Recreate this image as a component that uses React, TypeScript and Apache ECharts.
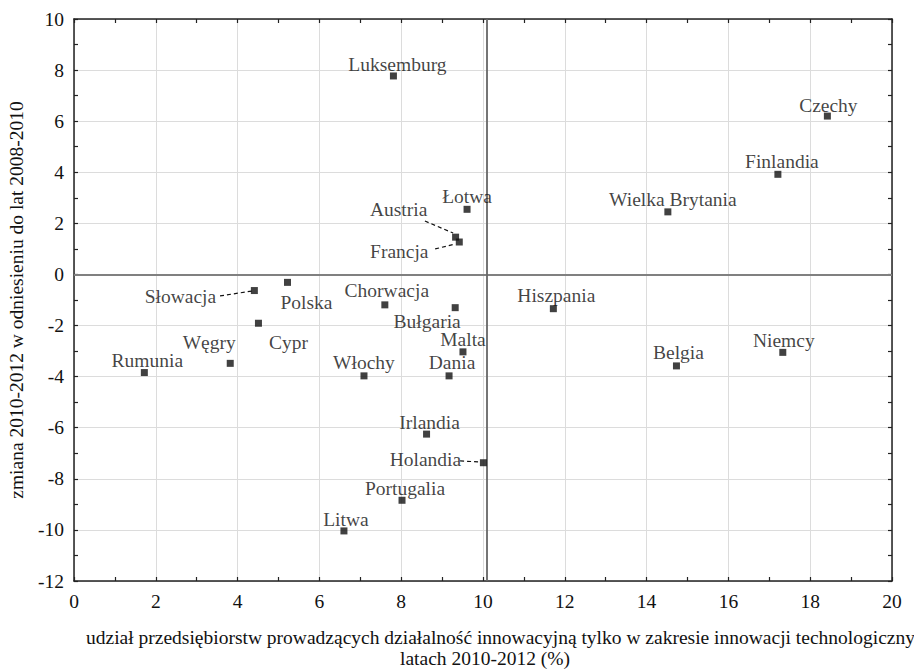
import React, { useEffect, useRef } from "react";
import * as echarts from "echarts";

const countries = [
  "Luksemburg", "Czechy", "Finlandia", "Wielka Brytania", "Hiszpania", "Belgia", "Niemcy",
  "Holandia", "Portugalia", "Litwa", "Irlandia", "Austria", "Francja", "Łotwa", "Chorwacja",
  "Bułgaria", "Słowacja", "Polska", "Cypr", "Węgry", "Rumunia", "Włochy", "Malta", "Dania",
];
const xValues = [
  7.81, 18.42, 17.21, 14.52, 11.72, 14.73, 17.33,
  10.01, 8.02, 6.60, 8.62, 9.33, 9.42, 9.61, 7.60,
  9.32, 4.41, 5.22, 4.51, 3.82, 1.72, 7.09, 9.51, 9.17,
];
const yValues = [
  7.77, 6.20, 3.92, 2.45, -1.34, -3.58, -3.05,
  -7.37, -8.84, -10.04, -6.25, 1.46, 1.27, 2.55, -1.19,
  -1.30, -0.63, -0.31, -1.91, -3.48, -3.84, -3.97, -3.03, -3.97,
];
// label offsets (px) relative to marker centre
const labelOffsets = [
  [4, -11], [1, -11], [4, -13], [5, -12], [3, -13], [2, -13], [1, -12],
  [-58, -3], [3, -12], [2, -11], [3, -12], [-57, -28], [-60, 9], [0, -13], [2, -14],
  [-28, 14], [-74, 6], [19, 20], [30, 19], [-21, -21], [3, -12], [0, -13], [0, -12], [3, -13],
];
// dashed leader lines (data coordinates)
const leaderLines = [
  [[8.58, 2.09], [9.27, 1.62]],
  [[8.83, 1.0], [9.32, 1.19]],
  [[3.57, -0.84], [4.35, -0.65]],
  [[9.44, -7.3], [9.95, -7.34]],
];
const xTicks = { min: 0, max: 20, interval: 2 };
const yTicks = { min: -12, max: 10, interval: 2 };
const refX = 10.08;
const refY = 0;

const xTitle1 =
  "udział przedsiębiorstw prowadzących działalność innowacyjną tylko w zakresie innowacji technologicznych w";
const xTitle2 = "latach 2010-2012 (%)";
const yTitle = "zmiana 2010-2012 w odniesieniu do lat 2008-2010";

const FONT = "Liberation Serif";
const TXT = "#111";
const FS = 19.5;

export default function App() {
  const ref = useRef<HTMLDivElement>(null);
  useEffect(() => {
    if (!ref.current) return;
    const chart = echarts.init(ref.current, undefined, { renderer: "svg" });
    const axisCommon = (isX: boolean, pos: string, showLabel: boolean, showSplit: boolean) => ({
      type: "value",
      position: pos,
      ...(isX ? xTicks : yTicks),
      axisLine: { show: true, onZero: false, lineStyle: { color: "#222", width: 1.5 } },
      axisTick: { show: true, inside: true, length: 4, lineStyle: { color: "#222", width: 1.2 } },
      minorTick: { show: true, splitNumber: 2, length: 4, lineStyle: { color: "#222", width: 1.2 } },
      splitLine: { show: showSplit, lineStyle: { color: "#dcdcdc", width: 1 } },
      minorSplitLine: { show: false },
      axisLabel: {
        show: showLabel,
        fontSize: FS,
        fontFamily: FONT,
        color: TXT,
        margin: 10,
      },
    });
    const data = countries.map((name, i) => ({
      name,
      value: [xValues[i], yValues[i]],
      label: { offset: labelOffsets[i] },
    }));
    chart.setOption({
      animation: false,
      backgroundColor: "#fff",
      textStyle: { fontFamily: FONT },
      grid: { left: 74, right: 22, top: 19, bottom: 89, containLabel: false },
      xAxis: [axisCommon(true, "bottom", true, true), axisCommon(true, "top", false, false)],
      yAxis: [axisCommon(false, "left", true, true), axisCommon(false, "right", false, false)],
      series: [
        {
          type: "lines",
          coordinateSystem: "cartesian2d",
          xAxisIndex: 0,
          yAxisIndex: 0,
          silent: true,
          z: 3,
          lineStyle: { color: "#111", width: 1.2, type: [4, 3], opacity: 1 },
          data: leaderLines.map((c) => ({ coords: c })),
        },
        {
          type: "scatter",
          xAxisIndex: 0,
          yAxisIndex: 0,
          symbol: "rect",
          symbolSize: 7,
          z: 5,
          itemStyle: { color: "#111" },
          label: {
            show: true,
            position: "inside",
            formatter: "{b}",
            fontSize: FS,
            fontFamily: FONT,
            color: TXT,
          },
          markLine: {
            silent: true,
            symbol: ["none", "none"],
            label: { show: false },
            z: 2,
            data: [
              { yAxis: refY, lineStyle: { color: "#808080", width: 2, type: "solid" } },
              { xAxis: refX, lineStyle: { color: "#666", width: 1.8, type: "solid" } },
            ],
          },
          data,
        },
      ],
      graphic: [
        {
          type: "text",
          x: 86,
          y: 637,
          style: { text: xTitle1, fontSize: FS, fontFamily: FONT, fill: TXT, align: "left", verticalAlign: "middle" },
        },
        {
          type: "text",
          x: 485,
          y: 658,
          style: { text: xTitle2, fontSize: FS, fontFamily: FONT, fill: TXT, align: "center", verticalAlign: "middle" },
        },
        {
          type: "text",
          x: 16,
          y: 300,
          rotation: Math.PI / 2,
          style: { text: yTitle, fontSize: FS, fontFamily: FONT, fill: TXT, align: "center", verticalAlign: "middle" },
        },
      ],
    });
    return () => chart.dispose();
  }, []);
  return (
    <div
      ref={ref}
      style={{ position: "fixed", left: 0, top: 0, width: 914, height: 670, background: "#fff" }}
    />
  );
}
